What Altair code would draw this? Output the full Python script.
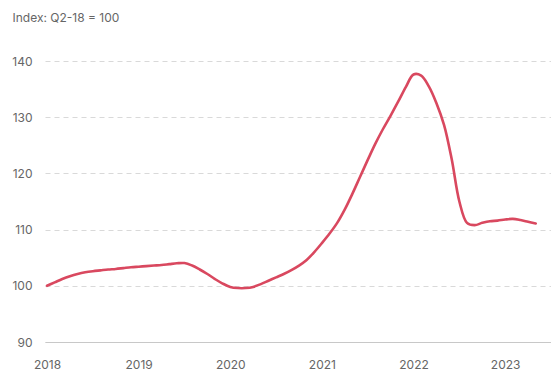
import altair as alt
import pandas as pd

# Monthly index values, January 2018 onward (Q2-18 = 100)
start_year = 2018
index_values = [
    100.0, 100.6, 101.2, 101.7, 102.1, 102.4, 102.6, 102.75, 102.9, 103.0, 103.15, 103.3,
    103.4, 103.5, 103.6, 103.7, 103.85, 104.0, 104.05, 103.6, 102.9, 102.1, 101.2, 100.4,
    99.8, 99.6, 99.6, 99.8, 100.3, 100.9, 101.5, 102.1, 102.8, 103.6, 104.6, 106.0,
    107.6, 109.3, 111.2, 113.6, 116.4, 119.4, 122.4, 125.3, 127.9, 130.3, 132.8, 135.4,
    137.6, 137.4, 135.5, 132.5, 128.6, 122.5, 115.0, 111.2, 110.8, 111.2, 111.5, 111.6,
    111.8, 111.9, 111.7, 111.4, 111.1,
]
year_ticks = [2018, 2019, 2020, 2021, 2022, 2023]
value_ticks = [90, 100, 110, 120, 130, 140]

df = pd.DataFrame({
    "t": [start_year + i / 12 for i in range(len(index_values))],
    "index": index_values,
})

FONT = "Inter"
GREY = "#666666"

chart = (
    alt.Chart(df)
    .mark_line(color="#d9485f", strokeWidth=2.6, interpolate="catmull-rom", strokeCap="round")
    .encode(
        x=alt.X(
            "t:Q",
            scale=alt.Scale(domain=[2017.978, 2023.5], nice=False, zero=False),
            axis=alt.Axis(
                values=year_ticks, format="d", title=None, grid=False,
                ticks=False, labelPadding=17, labelFontSize=12, labelColor=GREY,
                labelFont=FONT, domainColor="#c8c8c8", domainWidth=1.2,
                labelFlush=False,
            ),
        ),
        y=alt.Y(
            "index:Q",
            scale=alt.Scale(domain=[90, 140], nice=False, zero=False),
            axis=alt.Axis(
                values=value_ticks, title="Index: Q2-18 = 100", domain=False,
                ticks=False, labelPadding=13, labelFontSize=12, labelColor=GREY,
                labelFont=FONT, gridColor="#d9d9d9", gridDash=[5, 4], gridWidth=1,
                titleAngle=0, titleX=-33, titleY=-44, titleAlign="left",
                titleBaseline="middle", titleFontSize=12, titleFontWeight="normal",
                titleColor=GREY, titleFont=FONT,
            ),
        ),
    )
    .properties(
        width=506,
        height=281,
        autosize=alt.AutoSizeParams(type="none"),
        padding={"left": 45, "top": 61, "right": 0, "bottom": 32},
        background="white",
    )
    .configure_view(stroke=None)
)

chart.save("out.html", embed_options={"renderer": "svg", "actions": False})
